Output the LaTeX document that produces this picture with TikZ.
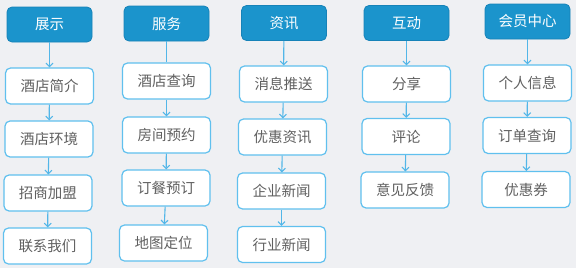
\documentclass[tikz,border=0pt]{standalone}
\usepackage{fontspec}
\setmainfont{Noto Sans CJK SC}
\usetikzlibrary{arrows.meta,positioning}
\definecolor{menublue}{RGB}{27,148,204}
\definecolor{menuedge}{RGB}{22,130,184}
\definecolor{itemedge}{RGB}{96,192,238}
\definecolor{linkblue}{RGB}{82,182,232}
\definecolor{pagebg}{RGB}{239,240,243}
\definecolor{itemtext}{RGB}{96,96,96}
\tikzset{
  menu-head/.style={draw=menuedge, fill=menublue, rounded corners=5pt, line width=0.8pt,
    minimum width=85pt, minimum height=35pt, inner sep=0pt,
    text=white, font=\fontsize{14.5}{16}\selectfont},
  menu-item/.style={draw=itemedge, fill=white, rounded corners=5pt, line width=1.2pt,
    minimum width=88pt, minimum height=36pt, inner sep=0pt,
    text=itemtext, font=\fontsize{14.5}{16}\selectfont},
  menu-link/.style={draw=linkblue, line width=1.1pt, -{Straight Barb[length=3.5pt,width=7pt]}}
}

\begin{document}
\begin{tikzpicture}[x=1pt, y=-1pt]
  % Page
  \fill[pagebg] (0,0) rectangle (576,268);
  \useasboundingbox (0,0) rectangle (576,268);

  % 展示
  \node[menu-head] (show) at (49.5,24.5) {展示};
  \node[menu-item] (intro) at (49.5,86) {酒店简介};
  \node[menu-item] (env) at (49,139) {酒店环境};
  \node[menu-item] (join) at (48,193) {招商加盟};
  \node[menu-item] (contact) at (47.5,246) {联系我们};

  % 服务
  \node[menu-head] (service) at (166.5,23.5) {服务};
  \node[menu-item] (query) at (166.5,81) {酒店查询};
  \node[menu-item] (room) at (166.5,135) {房间预约};
  \node[menu-item] (dining) at (166,188) {订餐预订};
  \node[menu-item] (map) at (163.5,243) {地图定位};

  % 资讯
  \node[menu-head] (info) at (284,23) {资讯};
  \node[menu-item] (push) at (283.5,84) {消息推送};
  \node[menu-item] (offers) at (282.5,137) {优惠资讯};
  \node[menu-item] (corp) at (281.5,191) {企业新闻};
  \node[menu-item] (trade) at (281.5,244.5) {行业新闻};

  % 互动
  \node[menu-head] (interact) at (406.5,23) {互动};
  \node[menu-item] (share) at (406.5,84) {分享};
  \node[menu-item] (comment) at (406,136.5) {评论};
  \node[menu-item] (feedback) at (405,190) {意见反馈};

  % 会员中心
  \node[menu-head] (member) at (527.5,21.5) {会员中心};
  \node[menu-item] (profile) at (527.5,83) {个人信息};
  \node[menu-item] (orders) at (527,135.5) {订单查询};
  \node[menu-item] (coupon) at (526,189.5) {优惠券};

  % Links
  \draw[menu-link] (show) -- (intro);
  \draw[menu-link] (intro) -- (env);
  \draw[menu-link] (env) -- (join);
  \draw[menu-link] (join) -- (contact);

  \draw[menu-link, -] (service) -- (query);
  \draw[menu-link] (query) -- (room);
  \draw[menu-link] (room) -- (dining);
  \draw[menu-link] (dining) -- (map);

  \draw[menu-link] (info) -- (push);
  \draw[menu-link] (push) -- (offers);
  \draw[menu-link] (offers) -- (corp);
  \draw[menu-link] (corp) -- (trade);

  \draw[menu-link] (interact) -- (share);
  \draw[menu-link] (share) -- (comment);
  \draw[menu-link] (comment) -- (feedback);

  \draw[menu-link] (member) -- (profile);
  \draw[menu-link] (profile) -- (orders);
  \draw[menu-link] (orders) -- (coupon);
\end{tikzpicture}
\end{document}
